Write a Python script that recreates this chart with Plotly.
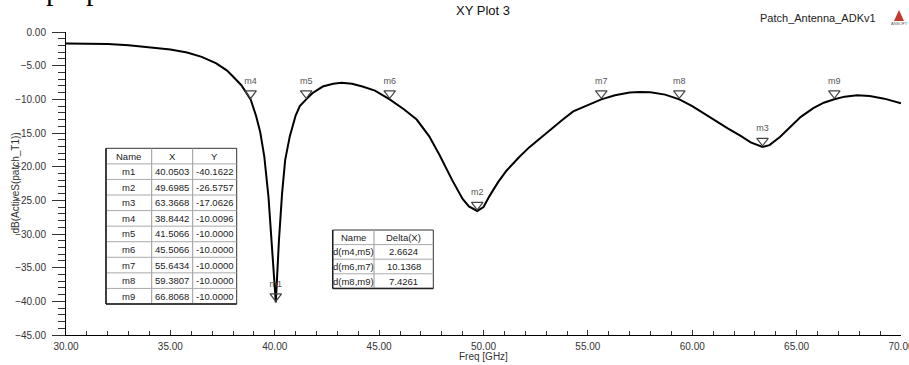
import plotly.graph_objects as go

# ---------------- data ----------------
freq = [30.0, 31.0, 32.0, 33.0, 34.0, 35.0, 35.8, 36.5, 37.2, 37.7, 38.0, 38.4,
        38.8442, 39.1, 39.3, 39.5, 39.7, 39.9, 40.0503, 40.2, 40.35, 40.5, 40.72,
        41.0, 41.2, 41.5066, 41.8, 42.3, 42.8, 43.2, 43.7, 44.2, 44.8, 45.5066,
        46.2, 46.8, 47.4, 47.9, 48.5, 49.0, 49.3, 49.6985, 50.0, 50.3, 50.7, 51.1,
        51.7, 52.2, 52.7, 53.2, 53.8, 54.3, 55.0, 55.6434, 56.3, 57.0, 57.5, 58.0,
        58.7, 59.3807, 60.0, 60.5, 61.0, 61.7, 62.3, 62.8, 63.3668, 63.7, 64.2,
        64.7, 65.2, 65.8, 66.3, 66.8068, 67.3, 67.9, 68.5, 69.2, 70.0]
db = [-1.70, -1.72, -1.80, -1.98, -2.25, -2.60, -3.05, -3.70, -4.65, -5.70, -6.60, -7.90,
      -10.01, -12.4, -14.8, -18.5, -24.5, -33.0, -40.16, -31.0, -24.0, -19.0, -15.5,
      -12.4, -11.0, -10.0, -9.1, -8.1, -7.7, -7.55, -7.7, -8.1, -8.7, -10.0,
      -11.5, -13.0, -15.5, -18.3, -22.0, -24.8, -25.9, -26.58, -26.0, -24.3, -22.3, -20.6,
      -18.6, -17.1, -15.8, -14.6, -13.0, -11.8, -10.8, -10.0, -9.4, -9.0, -8.9, -8.95,
      -9.3, -10.0, -11.0, -12.0, -13.0, -14.3, -15.4, -16.4, -17.06, -16.8, -15.6,
      -14.1, -12.6, -11.3, -10.5, -10.0, -9.6, -9.4, -9.5, -9.9, -10.6]

marker_names = ["m1", "m2", "m3", "m4", "m5", "m6", "m7", "m8", "m9"]
marker_x = [40.0503, 49.6985, 63.3668, 38.8442, 41.5066, 45.5066, 55.6434, 59.3807, 66.8068]
marker_y = [-40.1622, -26.5757, -17.0626, -10.0096, -10.0000, -10.0000, -10.0000, -10.0000, -10.0000]

delta_names = ["d(m4,m5)", "d(m6,m7)", "d(m8,m9)"]
delta_vals = [2.6624, 10.1368, 7.4261]

x_range = [30, 70]
y_range = [-45, 0]

# ---------------- layout geometry ----------------
W, H = 909, 365
L, R, T, B = 66, 8, 32, 30
PW, PH = W - L - R, H - T - B


def px_x(px):
    return (px - L) / PW


def px_y(py):
    return (H - B - py) / PH


FONT = "Liberation Sans, Arial, sans-serif"

fig = go.Figure()

fig.add_trace(go.Scatter(x=freq, y=db, mode="lines",
                         line=dict(color="black", width=2), hoverinfo="skip",
                         showlegend=False))

# marker triangles drawn slightly above the point (tip touches curve)
off = 6 * (y_range[1] - y_range[0]) / PH
fig.add_trace(go.Scatter(
    x=marker_x, y=[v + off for v in marker_y], mode="markers+text",
    marker=dict(symbol="triangle-down-open", size=10,
                color="#444", line=dict(width=1.2, color="#444")),
    text=marker_names, textposition="top center",
    textfont=dict(family=FONT, size=9, color="#555"),
    showlegend=False, hoverinfo="skip"))

shapes = []
annotations = []


def table(x_edges, y_top, row_h, rows, fsize):
    n = len(rows)
    x0, x1 = x_edges[0], x_edges[-1]
    y1 = y_top + row_h * n
    shapes.append(dict(type="rect", xref="paper", yref="paper",
                       x0=px_x(x0), x1=px_x(x1), y0=px_y(y1), y1=px_y(y_top),
                       line=dict(color="#333", width=1), fillcolor="white", layer="above"))
    for xe in x_edges[1:-1]:
        shapes.append(dict(type="line", xref="paper", yref="paper",
                           x0=px_x(xe), x1=px_x(xe), y0=px_y(y1), y1=px_y(y_top),
                           line=dict(color="#999", width=1), layer="above"))
    for i in range(1, n):
        yy = y_top + row_h * i
        shapes.append(dict(type="line", xref="paper", yref="paper",
                           x0=px_x(x0), x1=px_x(x1), y0=px_y(yy), y1=px_y(yy),
                           line=dict(color="#aaa", width=1), layer="above"))
    # darker left / bottom edge
    shapes.append(dict(type="line", xref="paper", yref="paper",
                       x0=px_x(x0), x1=px_x(x0), y0=px_y(y1), y1=px_y(y_top),
                       line=dict(color="#222", width=1.5), layer="above"))
    shapes.append(dict(type="line", xref="paper", yref="paper",
                       x0=px_x(x0), x1=px_x(x1), y0=px_y(y1), y1=px_y(y1),
                       line=dict(color="#222", width=1.5), layer="above"))
    for i, row in enumerate(rows):
        yc = y_top + row_h * (i + 0.5)
        for j, txt in enumerate(row):
            xc = (x_edges[j] + x_edges[j + 1]) / 2
            annotations.append(dict(xref="paper", yref="paper", x=px_x(xc), y=px_y(yc),
                                    text=txt, showarrow=False, xanchor="center",
                                    yanchor="middle",
                                    font=dict(family=FONT, size=fsize, color="#222")))


rows1 = [["Name", "X", "Y"]] + [[n, f"{x:.4f}", f"{y:.4f}"]
                                for n, x, y in zip(marker_names, marker_x, marker_y)]
table([106, 151.7, 192.7, 236.7], 148.3, 15.57, rows1, 9.5)

rows2 = [["Name", "Delta(X)"]] + [[n, f"{v:.4f}"]
                                  for n, v in zip(delta_names, delta_vals)]
table([332.7, 374, 433.3], 230, 14.6, rows2, 9.5)

# titles / texts
annotations.append(dict(xref="paper", yref="paper", x=px_x(483), y=px_y(10),
                        text="XY Plot 3", showarrow=False, xanchor="center", yanchor="middle",
                        font=dict(family=FONT, size=13, color="#111")))
annotations.append(dict(xref="paper", yref="paper", x=px_x(878), y=px_y(18),
                        text="Patch_Antenna_ADKv1", showarrow=False, xanchor="right",
                        yanchor="middle", font=dict(family=FONT, size=11, color="#222")))
annotations.append(dict(xref="paper", yref="paper", x=px_x(483), y=px_y(356),
                        text="Freq [GHz]", showarrow=False, xanchor="center", yanchor="middle",
                        font=dict(family=FONT, size=10, color="#333")))
annotations.append(dict(xref="paper", yref="paper", x=px_x(15), y=px_y(183.5),
                        text="dB(ActiveS(patch_T1))", showarrow=False, textangle=-90,
                        xanchor="center", yanchor="middle",
                        font=dict(family=FONT, size=10, color="#333")))
annotations.append(dict(xref="paper", yref="paper", x=px_x(899), y=px_y(24),
                        text="ANSOFT", showarrow=False, xanchor="center", yanchor="middle",
                        font=dict(family=FONT, size=4, color="#555")))
# cropped document text at the top-left (only its lower part is inside the picture)
annotations.append(dict(xref="paper", yref="paper", x=px_x(44), y=px_y(8),
                        text="proposed antenna.", showarrow=False, xanchor="left",
                        yanchor="bottom",
                        font=dict(family="Liberation Serif, Times New Roman, serif",
                                  size=30, color="black")))

# Ansoft logo triangle
shapes.append(dict(type="path", xref="paper", yref="paper",
                   path=f"M {px_x(899)} {px_y(10)} L {px_x(894)} {px_y(21)} L {px_x(904)} {px_y(21)} Z",
                   fillcolor="#c0392b", line=dict(color="#c0392b", width=0)))

fig.update_layout(
    width=W, height=H,
    margin=dict(l=L, r=R, t=T, b=B, autoexpand=False),
    paper_bgcolor="white", plot_bgcolor="white",
    shapes=shapes, annotations=annotations,
    xaxis=dict(range=x_range, dtick=5, tick0=30, tickformat=".2f",
               showgrid=False, zeroline=False, showline=True, linecolor="black",
               linewidth=1, ticks="inside", ticklen=5, tickcolor="#333",
               minor=dict(dtick=1, ticks="inside", ticklen=4, tickcolor="#333"),
               tickfont=dict(family=FONT, size=10, color="#333"),
               ticklabelstandoff=2, ticklabeloverflow="allow"),
    yaxis=dict(range=y_range, dtick=5, tickformat=".2f",
               showgrid=False, zeroline=False, showline=True, linecolor="black",
               linewidth=1, ticks="outside", ticklen=13, tickcolor="#333",
               minor=dict(dtick=1, ticks="outside", ticklen=7, tickcolor="#333"),
               tickfont=dict(family=FONT, size=10, color="#333"),
               ticklabelstandoff=4),
)

fig.write_html("out.html")
